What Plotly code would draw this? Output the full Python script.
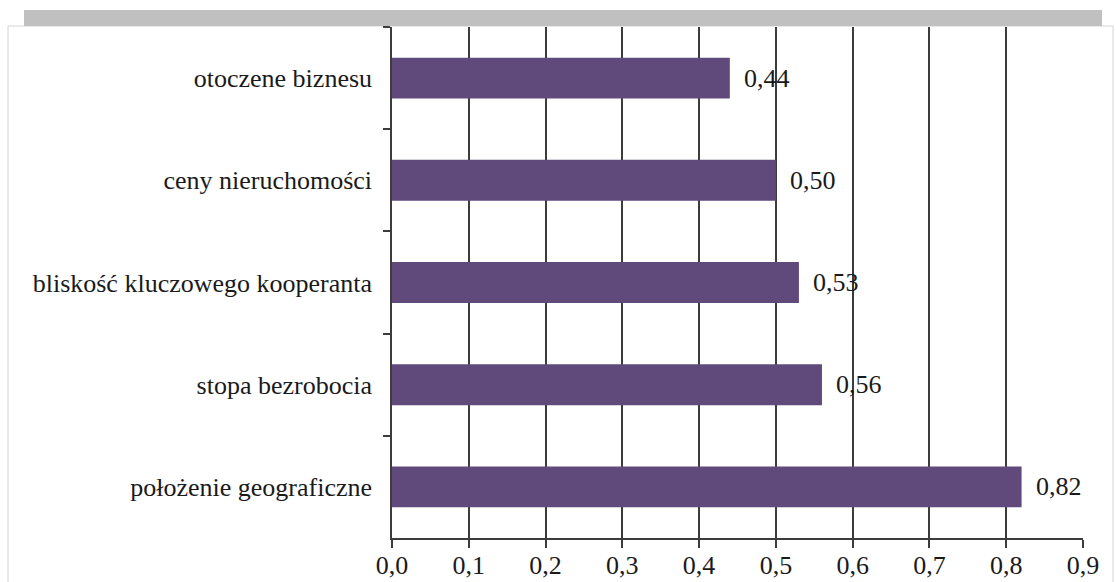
import plotly.graph_objects as go

# Location factors and their scores (top to bottom)
factors = [
    "otoczene biznesu",
    "ceny nieruchomości",
    "bliskość kluczowego kooperanta",
    "stopa bezrobocia",
    "położenie geograficzne",
]
scores = [0.44, 0.50, 0.53, 0.56, 0.82]
x_ticks = [0.0, 0.1, 0.2, 0.3, 0.4, 0.5, 0.6, 0.7, 0.8, 0.9]

W, H = 1116, 582
PLOT_L, PLOT_R, PLOT_T, PLOT_B = 392, 1083, 27, 538
pw, ph = PLOT_R - PLOT_L, PLOT_B - PLOT_T


def px_x(v):
    return (v - PLOT_L) / pw


def px_y(v):
    return (PLOT_B - v) / ph


FONT = "Liberation Serif"
FS = 26
BAR = "#604A7B"
LINE = "#3c3c3c"
TEXT = "#1a1a1a"

fig = go.Figure(
    go.Bar(
        x=scores,
        y=factors,
        orientation="h",
        marker=dict(color=BAR, line=dict(width=0)),
        width=0.4,
        hoverinfo="skip",
    )
)

# value labels to the right of each bar
for f, s in zip(factors, scores):
    fig.add_annotation(
        x=s, y=f, xref="x", yref="y",
        text=f"{s:.2f}".replace(".", ","),
        showarrow=False, xanchor="left", xshift=12,
        font=dict(family=FONT, size=FS, color=TEXT),
    )

shapes = [
    # outer frame
    dict(type="rect", xref="paper", yref="paper",
         x0=px_x(8), x1=px_x(1113), y0=px_y(620), y1=px_y(26),
         line=dict(color="#d4d4d4", width=1), fillcolor="white", layer="below"),
    # grey band along the top
    dict(type="rect", xref="paper", yref="paper",
         x0=px_x(24), x1=px_x(1102), y0=px_y(26), y1=px_y(10),
         line=dict(width=0), fillcolor="#c0c0c0", layer="below"),
]

fig.update_layout(
    width=W, height=H,
    margin=dict(l=PLOT_L, r=W - PLOT_R, t=PLOT_T, b=H - PLOT_B, pad=0,
                autoexpand=False),
    paper_bgcolor="white", plot_bgcolor="white",
    separators=", ",
    showlegend=False,
    bargap=0.6,
    shapes=shapes,
    font=dict(family=FONT, size=FS, color=TEXT),
)

fig.update_xaxes(
    range=[0, 0.9], tickvals=x_ticks, tickformat=".1f",
    showgrid=True, gridcolor=LINE, gridwidth=1.5,
    showline=True, linecolor=LINE, linewidth=1.5,
    ticks="outside", ticklen=8, tickcolor=LINE, tickwidth=1.5,
    zeroline=False, ticklabelstandoff=-5, automargin=False,
    tickfont=dict(family=FONT, size=FS, color=TEXT),
    fixedrange=True,
)
fig.update_yaxes(
    autorange="reversed", categoryorder="array", categoryarray=factors,
    showgrid=False, showline=True, linecolor=LINE, linewidth=1.5,
    ticks="outside", tickson="boundaries", ticklen=7, tickcolor=LINE, tickwidth=1.5,
    ticklabelstandoff=13, automargin=False,
    tickfont=dict(family=FONT, size=FS, color=TEXT),
    fixedrange=True,
)

fig.write_html("out.html")
